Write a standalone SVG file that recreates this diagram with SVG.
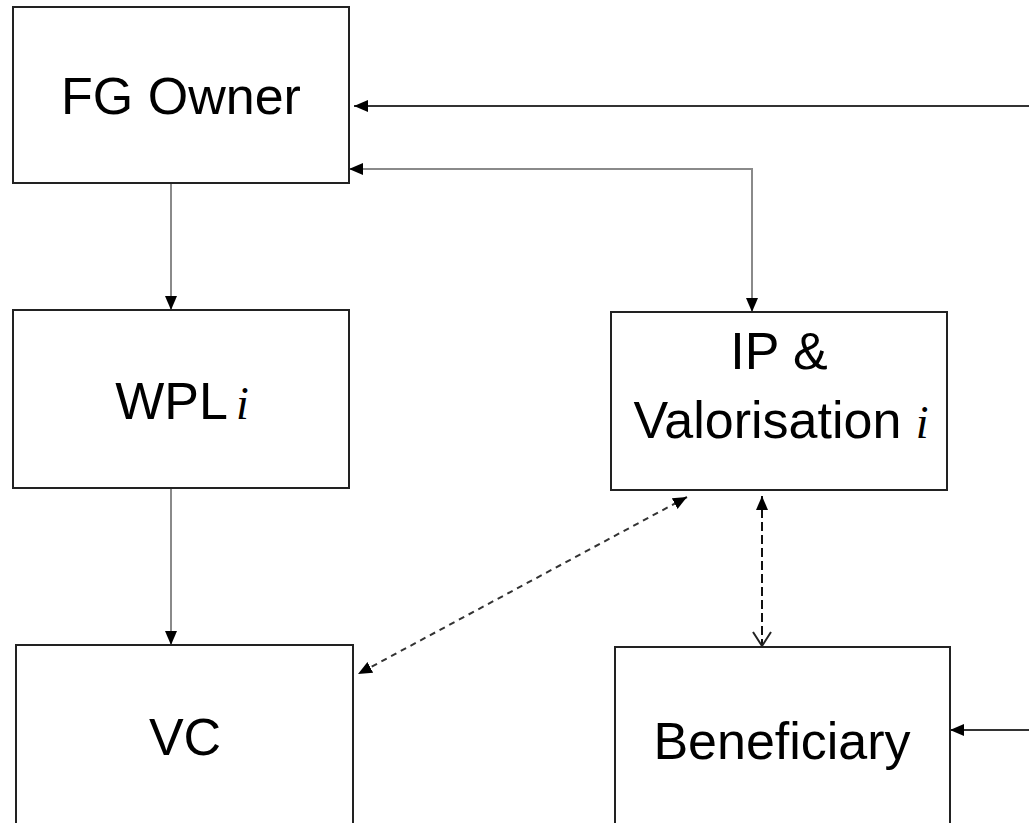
<svg xmlns="http://www.w3.org/2000/svg" width="1029" height="823" viewBox="0 0 1029 823">
<style>
.box{fill:#fff;stroke:#222;stroke-width:2}
.lbl{font-family:"Liberation Sans",Arial,sans-serif;font-size:52px;fill:#000;text-anchor:middle}
.mi{font-family:"Liberation Serif","DejaVu Serif",serif;font-style:italic;font-size:46px}
.conn{fill:none;stroke:#8a8a8a;stroke-width:2}
.dark{stroke:#333}
.dash1{fill:none;stroke:#333;stroke-width:2;stroke-dasharray:6,5}
.dash2{fill:none;stroke:#111;stroke-width:2;stroke-dasharray:9,4}
</style>
<defs>
<marker id="ah" markerUnits="userSpaceOnUse" markerWidth="16" markerHeight="14" refX="14" refY="7" orient="auto-start-reverse">
<path d="M0,1 L14,7 L0,13 Z" fill="#000"/>
</marker>
<marker id="av" markerUnits="userSpaceOnUse" markerWidth="18" markerHeight="22" refX="15" refY="10" orient="auto">
<path d="M1,1 L15,10 L1,19" fill="none" stroke="#222" stroke-width="2"/>
</marker>
</defs>
<rect width="1029" height="823" fill="#fff"/>
<g id="connectors">
<line class="conn dark" x1="1029" y1="106" x2="354" y2="106" marker-end="url(#ah)"/>
<polyline class="conn" points="752,312 752,169 349,169" marker-start="url(#ah)" marker-end="url(#ah)"/>
<line class="conn" x1="171" y1="183" x2="171" y2="310" marker-end="url(#ah)"/>
<line class="conn" x1="171" y1="488" x2="171" y2="645" marker-end="url(#ah)"/>
<line class="dash1" x1="687" y1="497" x2="358" y2="674" marker-start="url(#ah)" marker-end="url(#ah)"/>
<line class="dash2" x1="762" y1="496" x2="762" y2="646" marker-start="url(#ah)" marker-end="url(#av)"/>
<line class="conn dark" x1="1029" y1="730" x2="950" y2="730" marker-end="url(#ah)"/>
</g>
<g id="fg-owner">
<rect class="box" x="13" y="7" width="336" height="176"/>
<text class="lbl" x="181" y="114">FG Owner</text>
</g>
<g id="wpl">
<rect class="box" x="13" y="310" width="336" height="178"/>
<text class="lbl" x="182" y="419">WPL<tspan class="mi" dx="8">i</tspan></text>
</g>
<g id="ip-valorisation">
<rect class="box" x="611" y="312" width="336" height="178"/>
<text class="lbl" x="779" y="369">IP &amp;</text>
<text class="lbl" x="781" y="438">Valorisation <tspan class="mi">i</tspan></text>
</g>
<g id="vc">
<rect class="box" x="16" y="645" width="337" height="190"/>
<text class="lbl" x="185" y="755">VC</text>
</g>
<g id="beneficiary">
<rect class="box" x="615" y="647" width="335" height="190"/>
<text class="lbl" x="782" y="759">Beneficiary</text>
</g>
</svg>
